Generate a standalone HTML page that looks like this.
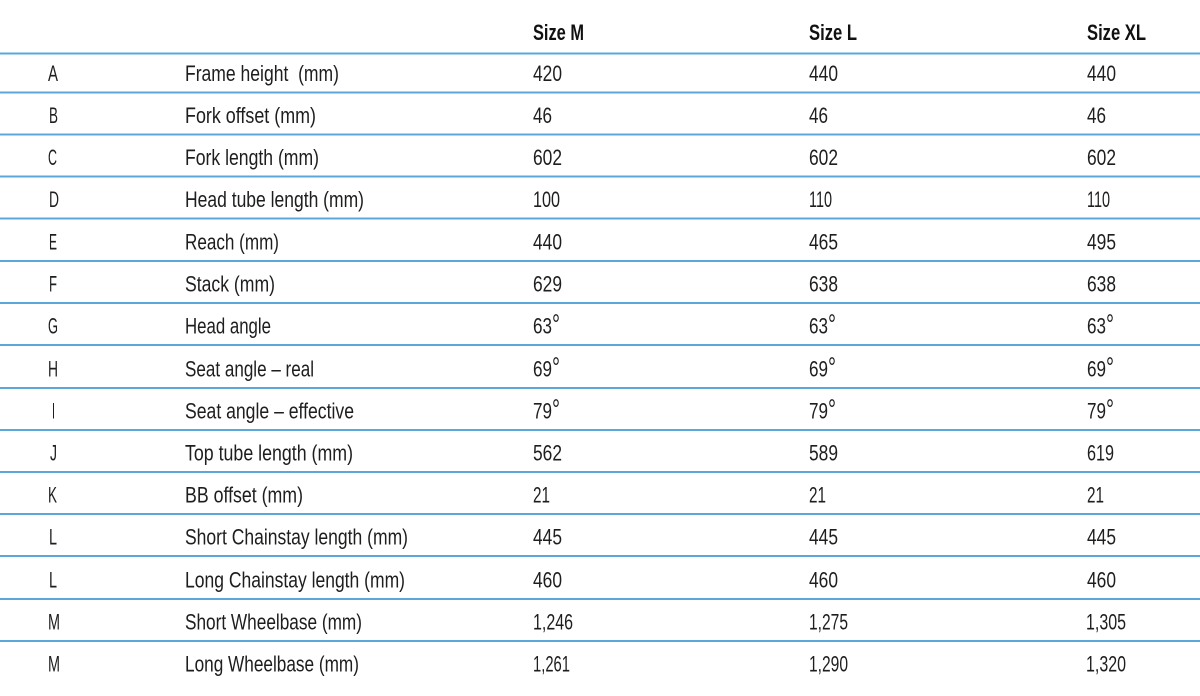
<!DOCTYPE html>
<html>
<head>
<meta charset="utf-8">
<style>
  html,body{margin:0;padding:0;background:#fff;}
  svg{display:block;}
  text{font-family:"Liberation Sans",sans-serif;fill:#1e1e1e;font-size:22px;}
  .h{font-weight:bold;fill:#111;font-size:22px;}
  .deg{font-size:28px;}
</style>
</head>
<body>
<svg width="1200" height="696" viewBox="0 0 1200 696" xmlns="http://www.w3.org/2000/svg">
  <rect width="1200" height="696" fill="#fff"/>
  <!-- lines -->
  <g fill="#5aa8d9">
    <rect x="0" y="52.5" width="1200" height="2"/>
    <rect x="0" y="91.5" width="1200" height="2"/>
    <rect x="0" y="133.5" width="1200" height="2"/>
    <rect x="0" y="175.5" width="1200" height="2"/>
    <rect x="0" y="217.5" width="1200" height="2"/>
    <rect x="0" y="260" width="1200" height="2"/>
    <rect x="0" y="302" width="1200" height="2"/>
    <rect x="0" y="344" width="1200" height="2"/>
    <rect x="0" y="387" width="1200" height="2"/>
    <rect x="0" y="429" width="1200" height="2"/>
    <rect x="0" y="471" width="1200" height="2"/>
    <rect x="0" y="513" width="1200" height="2"/>
    <rect x="0" y="555" width="1200" height="2"/>
    <rect x="0" y="598" width="1200" height="2"/>
    <rect x="0" y="640" width="1200" height="2"/>
  </g>

  <!-- header -->
  <text class="h" x="533" y="40" textLength="51" lengthAdjust="spacingAndGlyphs">Size M</text>
  <text class="h" x="809" y="40" textLength="48" lengthAdjust="spacingAndGlyphs">Size L</text>
  <text class="h" x="1087" y="40" textLength="59" lengthAdjust="spacingAndGlyphs">Size XL</text>

  <!-- letters -->
  <text x="48" y="81" textLength="10" lengthAdjust="spacingAndGlyphs">A</text>
  <text x="49" y="123" textLength="9" lengthAdjust="spacingAndGlyphs">B</text>
  <text x="48" y="165" textLength="9" lengthAdjust="spacingAndGlyphs">C</text>
  <text x="49" y="207" textLength="10" lengthAdjust="spacingAndGlyphs">D</text>
  <text x="49" y="249.5" textLength="8" lengthAdjust="spacingAndGlyphs">E</text>
  <text x="49" y="291.5" textLength="8" lengthAdjust="spacingAndGlyphs">F</text>
  <text x="48" y="333.5" textLength="10" lengthAdjust="spacingAndGlyphs">G</text>
  <text x="48" y="376.5" textLength="10" lengthAdjust="spacingAndGlyphs">H</text>
  <text x="52" y="418.5" textLength="3" lengthAdjust="spacingAndGlyphs">I</text>
  <text x="50" y="460.5" textLength="7" lengthAdjust="spacingAndGlyphs">J</text>
  <text x="48" y="502.5" textLength="9" lengthAdjust="spacingAndGlyphs">K</text>
  <text x="49" y="544.5" textLength="8" lengthAdjust="spacingAndGlyphs">L</text>
  <text x="49" y="587.5" textLength="8" lengthAdjust="spacingAndGlyphs">L</text>
  <text x="48" y="629.5" textLength="12" lengthAdjust="spacingAndGlyphs">M</text>
  <text x="48" y="671.5" textLength="12" lengthAdjust="spacingAndGlyphs">M</text>

  <!-- labels -->
  <text x="185" y="81" textLength="154" lengthAdjust="spacingAndGlyphs" xml:space="preserve">Frame height  (mm)</text>
  <text x="185" y="123" textLength="131" lengthAdjust="spacingAndGlyphs">Fork offset (mm)</text>
  <text x="185" y="165" textLength="134" lengthAdjust="spacingAndGlyphs">Fork length (mm)</text>
  <text x="185" y="207" textLength="179" lengthAdjust="spacingAndGlyphs">Head tube length (mm)</text>
  <text x="185" y="249.5" textLength="94" lengthAdjust="spacingAndGlyphs">Reach (mm)</text>
  <text x="185" y="291.5" textLength="90" lengthAdjust="spacingAndGlyphs">Stack (mm)</text>
  <text x="185" y="333.5" textLength="86" lengthAdjust="spacingAndGlyphs">Head angle</text>
  <text x="185" y="376.5" textLength="129" lengthAdjust="spacingAndGlyphs">Seat angle – real</text>
  <text x="185" y="418.5" textLength="169" lengthAdjust="spacingAndGlyphs">Seat angle – effective</text>
  <text x="185" y="460.5" textLength="168" lengthAdjust="spacingAndGlyphs">Top tube length (mm)</text>
  <text x="185" y="502.5" textLength="118" lengthAdjust="spacingAndGlyphs">BB offset (mm)</text>
  <text x="185" y="544.5" textLength="223" lengthAdjust="spacingAndGlyphs">Short Chainstay length (mm)</text>
  <text x="185" y="587.5" textLength="220" lengthAdjust="spacingAndGlyphs">Long Chainstay length (mm)</text>
  <text x="185" y="629.5" textLength="177" lengthAdjust="spacingAndGlyphs">Short Wheelbase (mm)</text>
  <text x="185" y="671.5" textLength="174" lengthAdjust="spacingAndGlyphs">Long Wheelbase (mm)</text>

  <!-- Size M -->
  <text x="533" y="81" textLength="29" lengthAdjust="spacingAndGlyphs">420</text>
  <text x="533" y="123" textLength="19" lengthAdjust="spacingAndGlyphs">46</text>
  <text x="533" y="165" textLength="29" lengthAdjust="spacingAndGlyphs">602</text>
  <text x="533" y="207" textLength="27" lengthAdjust="spacingAndGlyphs">100</text>
  <text x="533" y="249.5" textLength="29" lengthAdjust="spacingAndGlyphs">440</text>
  <text x="533" y="291.5" textLength="29" lengthAdjust="spacingAndGlyphs">629</text>
  <text x="533" y="333.5" textLength="19" lengthAdjust="spacingAndGlyphs">63</text><text class="deg" x="552" y="333.5" textLength="8" lengthAdjust="spacingAndGlyphs">°</text>
  <text x="533" y="376.5" textLength="19" lengthAdjust="spacingAndGlyphs">69</text><text class="deg" x="552" y="376.5" textLength="8" lengthAdjust="spacingAndGlyphs">°</text>
  <text x="533" y="418.5" textLength="19" lengthAdjust="spacingAndGlyphs">79</text><text class="deg" x="552" y="418.5" textLength="8" lengthAdjust="spacingAndGlyphs">°</text>
  <text x="533" y="460.5" textLength="29" lengthAdjust="spacingAndGlyphs">562</text>
  <text x="533" y="502.5" textLength="17" lengthAdjust="spacingAndGlyphs">21</text>
  <text x="533" y="544.5" textLength="29" lengthAdjust="spacingAndGlyphs">445</text>
  <text x="533" y="587.5" textLength="29" lengthAdjust="spacingAndGlyphs">460</text>
  <text x="533" y="629.5" textLength="40" lengthAdjust="spacingAndGlyphs">1,246</text>
  <text x="533" y="671.5" textLength="37" lengthAdjust="spacingAndGlyphs">1,261</text>

  <!-- Size L -->
  <text x="809" y="81" textLength="29" lengthAdjust="spacingAndGlyphs">440</text>
  <text x="809" y="123" textLength="19" lengthAdjust="spacingAndGlyphs">46</text>
  <text x="809" y="165" textLength="29" lengthAdjust="spacingAndGlyphs">602</text>
  <text x="809" y="207" textLength="23" lengthAdjust="spacingAndGlyphs">110</text>
  <text x="809" y="249.5" textLength="29" lengthAdjust="spacingAndGlyphs">465</text>
  <text x="809" y="291.5" textLength="29" lengthAdjust="spacingAndGlyphs">638</text>
  <text x="809" y="333.5" textLength="19" lengthAdjust="spacingAndGlyphs">63</text><text class="deg" x="828" y="333.5" textLength="8" lengthAdjust="spacingAndGlyphs">°</text>
  <text x="809" y="376.5" textLength="19" lengthAdjust="spacingAndGlyphs">69</text><text class="deg" x="828" y="376.5" textLength="8" lengthAdjust="spacingAndGlyphs">°</text>
  <text x="809" y="418.5" textLength="19" lengthAdjust="spacingAndGlyphs">79</text><text class="deg" x="828" y="418.5" textLength="8" lengthAdjust="spacingAndGlyphs">°</text>
  <text x="809" y="460.5" textLength="29" lengthAdjust="spacingAndGlyphs">589</text>
  <text x="809" y="502.5" textLength="17" lengthAdjust="spacingAndGlyphs">21</text>
  <text x="809" y="544.5" textLength="29" lengthAdjust="spacingAndGlyphs">445</text>
  <text x="809" y="587.5" textLength="29" lengthAdjust="spacingAndGlyphs">460</text>
  <text x="809" y="629.5" textLength="39" lengthAdjust="spacingAndGlyphs">1,275</text>
  <text x="809" y="671.5" textLength="39" lengthAdjust="spacingAndGlyphs">1,290</text>

  <!-- Size XL -->
  <text x="1087" y="81" textLength="29" lengthAdjust="spacingAndGlyphs">440</text>
  <text x="1087" y="123" textLength="19" lengthAdjust="spacingAndGlyphs">46</text>
  <text x="1087" y="165" textLength="29" lengthAdjust="spacingAndGlyphs">602</text>
  <text x="1087" y="207" textLength="23" lengthAdjust="spacingAndGlyphs">110</text>
  <text x="1087" y="249.5" textLength="29" lengthAdjust="spacingAndGlyphs">495</text>
  <text x="1087" y="291.5" textLength="29" lengthAdjust="spacingAndGlyphs">638</text>
  <text x="1087" y="333.5" textLength="19" lengthAdjust="spacingAndGlyphs">63</text><text class="deg" x="1106" y="333.5" textLength="8" lengthAdjust="spacingAndGlyphs">°</text>
  <text x="1087" y="376.5" textLength="19" lengthAdjust="spacingAndGlyphs">69</text><text class="deg" x="1106" y="376.5" textLength="8" lengthAdjust="spacingAndGlyphs">°</text>
  <text x="1087" y="418.5" textLength="19" lengthAdjust="spacingAndGlyphs">79</text><text class="deg" x="1106" y="418.5" textLength="8" lengthAdjust="spacingAndGlyphs">°</text>
  <text x="1087" y="460.5" textLength="27" lengthAdjust="spacingAndGlyphs">619</text>
  <text x="1087" y="502.5" textLength="17" lengthAdjust="spacingAndGlyphs">21</text>
  <text x="1087" y="544.5" textLength="29" lengthAdjust="spacingAndGlyphs">445</text>
  <text x="1087" y="587.5" textLength="29" lengthAdjust="spacingAndGlyphs">460</text>
  <text x="1086" y="629.5" textLength="40" lengthAdjust="spacingAndGlyphs">1,305</text>
  <text x="1086" y="671.5" textLength="40" lengthAdjust="spacingAndGlyphs">1,320</text>
</svg>
</body>
</html>
